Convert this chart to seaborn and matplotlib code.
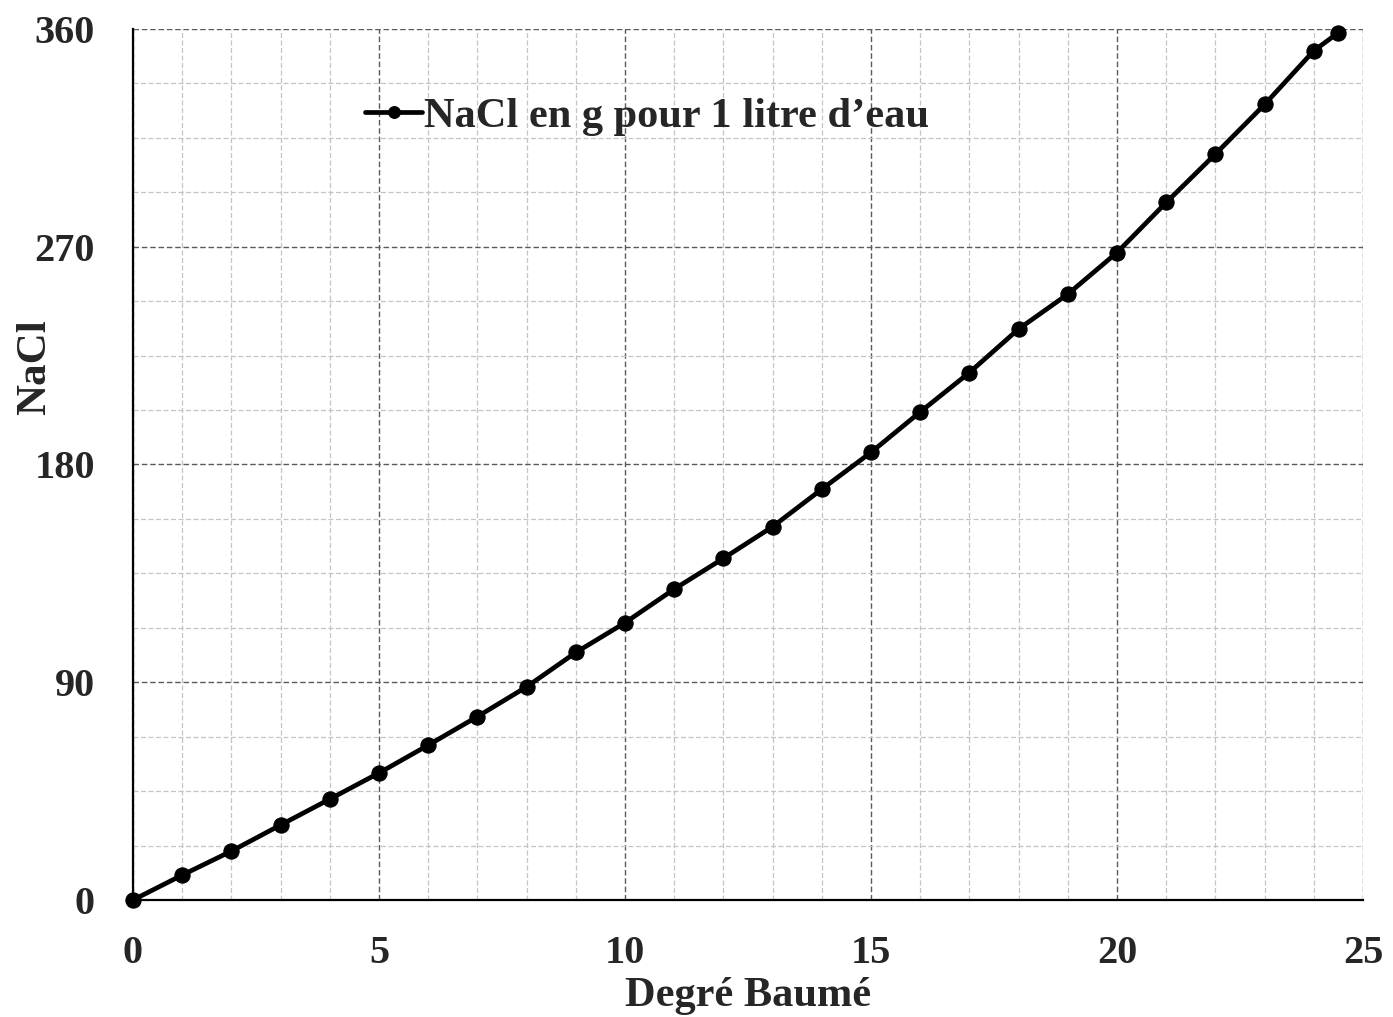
import matplotlib
matplotlib.use("Agg")
import matplotlib.pyplot as plt
import seaborn as sns
import pandas as pd
from matplotlib.ticker import MultipleLocator

baume = [0, 1, 2, 3, 4, 5, 6, 7, 8, 9, 10, 11, 12, 13, 14, 15, 16, 17, 18, 19, 20, 21, 22, 23, 24, 24.5]
nacl = [0, 10.3, 20.2, 31, 41.7, 52.5, 64.0, 75.8, 88.1, 102.3, 114.6, 128.5, 141.2, 154.3, 169.8,
        185.0, 201.7, 218, 236, 250.4, 267.6, 288.3, 308.3, 328.8, 351, 358.5]
series_label = "NaCl en g pour 1 litre d\u2019eau"
x_ticks = [0, 5, 10, 15, 20, 25]
y_ticks = [0, 90, 180, 270, 360]

df = pd.DataFrame({"baume": baume, "nacl": nacl, "serie": series_label})

sns.set_style("white")
plt.rcParams["font.family"] = ["Liberation Serif", "DejaVu Serif"]
plt.rcParams["font.weight"] = "bold"

fig = plt.figure(figsize=(13.93, 10.17), dpi=100)
ax = fig.add_axes([133/1393, 1-900/1017, (1363-133)/1393, (900-29)/1017])

sns.lineplot(data=df, x="baume", y="nacl", hue="serie", palette=["black"], marker="o",
             markersize=11, linewidth=3.4, markeredgecolor="black", ax=ax, zorder=5, clip_on=False)

ax.set_xlim(0, 25)
ax.set_ylim(0, 360)
ax.set_xticks(x_ticks)
ax.set_yticks(y_ticks)
ax.xaxis.set_minor_locator(MultipleLocator(1))
ax.yaxis.set_minor_locator(MultipleLocator(22.5))

ax.grid(which="minor", color="#c4c4c4", linestyle=(0, (4, 2)), linewidth=0.9)
ax.grid(which="major", color="#5a5a5a", linestyle=(0, (4, 2)), linewidth=1.0)
ax.set_axisbelow(True)

for s in ["top", "right"]:
    ax.spines[s].set_visible(False)
for s in ["left", "bottom"]:
    ax.spines[s].set_color("black")
    ax.spines[s].set_linewidth(1.6)

ax.tick_params(which="major", direction="inout", length=15, width=1.6, labelsize=29, color="black")
ax.tick_params(which="minor", direction="in", length=7, width=1.4, color="black")
ax.tick_params(axis="x", which="major", pad=18)
ax.tick_params(axis="y", which="major", pad=20)
for lab in ax.get_xticklabels() + ax.get_yticklabels():
    lab.set_fontweight("bold")

ax.set_xlabel("Degr\u00e9 Baum\u00e9", fontsize=30.5, fontweight="bold", labelpad=3)
ax.set_ylabel("NaCl", fontsize=31, fontweight="bold")
ax.yaxis.set_label_coords((54 - 133) / 1230, (900 - 367) / 871)

leg = ax.legend(loc="upper left", bbox_to_anchor=(0.175, 0.941), frameon=False,
                prop={"family": "Liberation Serif", "weight": "bold", "size": 30.5},
                handlelength=1.35, handletextpad=0.03, borderaxespad=0)
for h in leg.legend_handles:
    h.set_markersize(8.5)
    h.set_linewidth(3.4)

fig.savefig("out.png", dpi=100, facecolor="white")
